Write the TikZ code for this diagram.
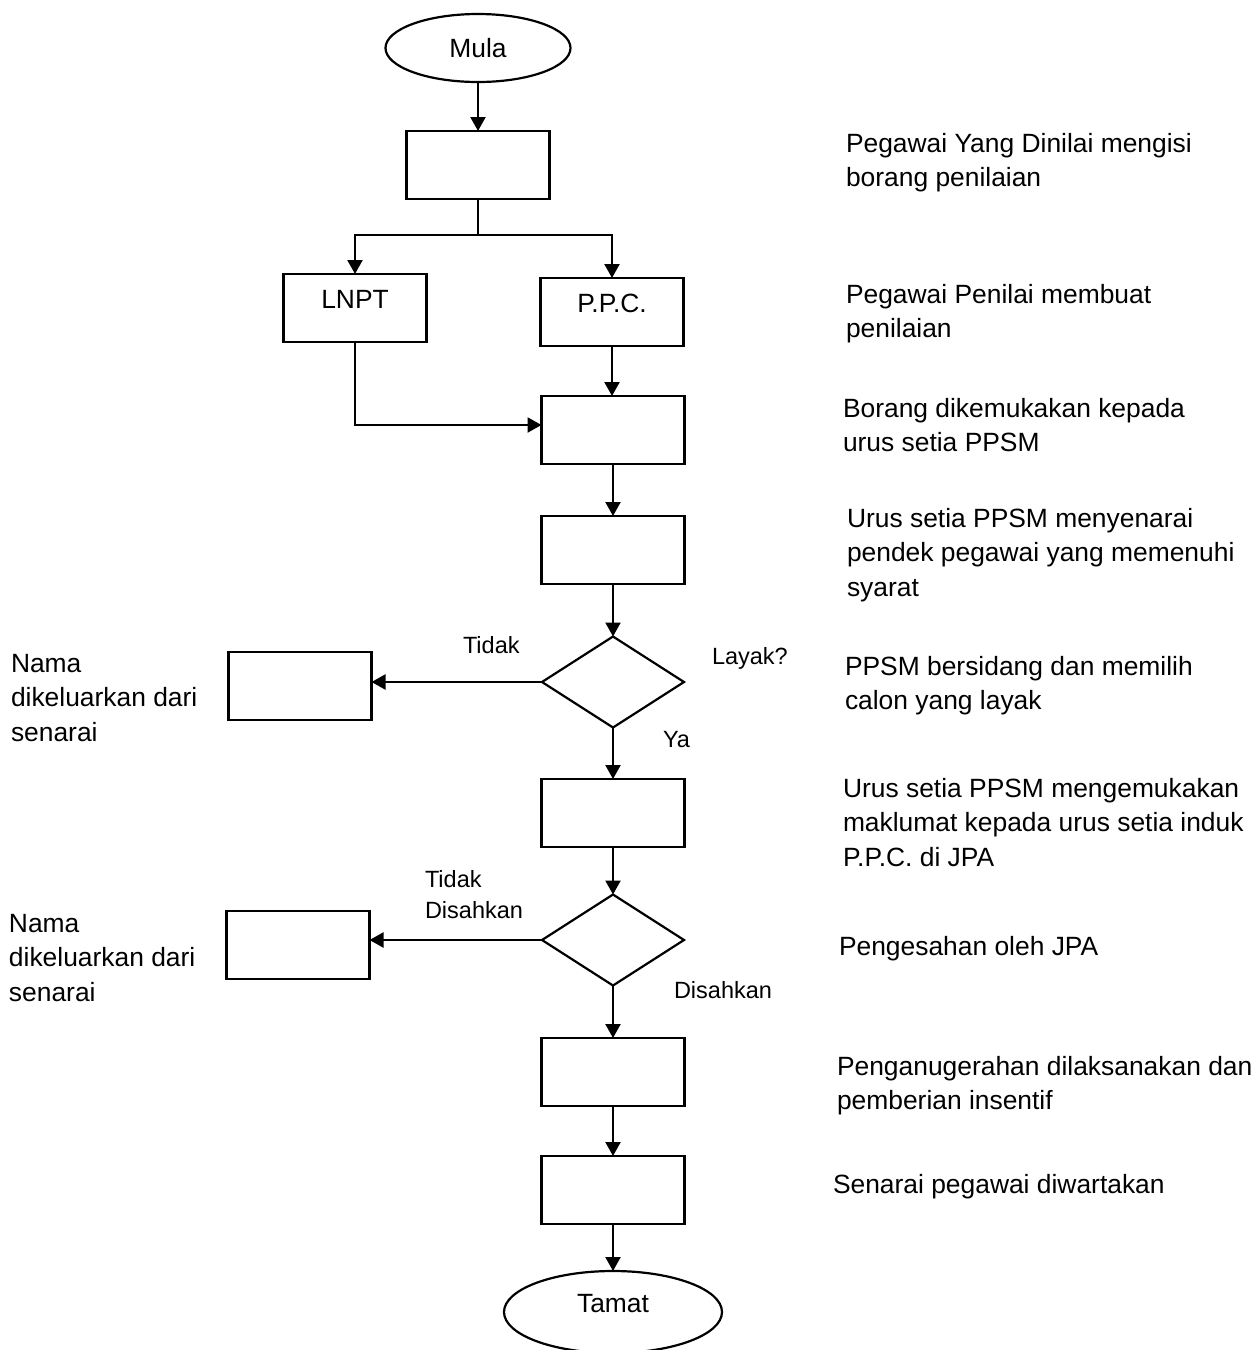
\documentclass[tikz,border=0pt]{standalone}
\usepackage{fontspec}
\setmainfont{Liberation Sans}
\usetikzlibrary{shapes.geometric,arrows.meta}
\newcommand\mylines[1]{\begin{tabular}[t]{@{}l@{}}#1\end{tabular}}
\begin{document}
\begin{tikzpicture}[x=1pt,y=-1pt,
  every node/.style={inner sep=0pt, outer sep=0pt},
  line/.style={line width=2.2pt},
  arr/.style={line width=2.2pt, -{Triangle[length=14pt,width=15pt]}},
  box/.style={draw, line width=2.2pt, rectangle, minimum width=143pt, minimum height=68pt, font=\fontsize{26.4}{30}\selectfont, text height=19pt, text depth=19pt},
  term/.style={draw, line width=2.2pt, ellipse, font=\fontsize{26.4}{30}\selectfont},
  dec/.style={draw, line width=2.2pt, diamond, minimum width=142pt, minimum height=91pt, aspect=1.55},
  desc/.style={anchor=base west, font=\fontsize{26.4}{34.5}\selectfont},
  lbl/.style={anchor=base west, font=\fontsize{23.5}{31}\selectfont},
]
\useasboundingbox (0,0) rectangle (1258,1350);
\clip (0,0) rectangle (1258,1350);
\fill[white] (0,0) rectangle (1258,1350);

% flow nodes
\node[term, minimum width=185pt, minimum height=68pt] (mula) at (478,48) {Mula};
\node[box] (b1) at (478,165) {};
\node[box] (lnpt) at (355,308) {LNPT};
\node[box] (ppc) at (612,312) {P.P.C.};
\node[box] (b3) at (613,430) {};
\node[box] (b4) at (613,550) {};
\node[dec] (d1) at (613,682) {};
\node[box] (r1) at (300,686) {};
\node[box] (b5) at (613,813) {};
\node[dec] (d2) at (613,940) {};
\node[box] (r2) at (298,945) {};
\node[box] (b6) at (613,1072) {};
\node[box] (b7) at (613,1190) {};
\node[term, minimum width=218pt, minimum height=82pt, text height=19pt, text depth=19pt] (tamat) at (613,1312) {Tamat};

% connectors
\coordinate (split) at (478,235);
\draw[arr] (mula.south) -- (b1.north);
\draw[line] (b1.south) -- (split);
\draw[arr] (split) -| (lnpt.north);
\draw[arr] (split) -| (ppc.north);
\draw[arr] (ppc.south) -- (ppc.south |- b3.north);
\draw[arr] (lnpt.south) |- ([yshift=5pt]b3.west);
\draw[arr] (b3.south) -- (b4.north);
\draw[arr] (b4.south) -- (d1.north);
\draw[arr] (d1.west) -- (d1.west -| r1.east);
\draw[arr] (d1.south) -- (b5.north);
\draw[arr] (b5.south) -- (d2.north);
\draw[arr] (d2.west) -- (d2.west -| r2.east);
\draw[arr] (d2.south) -- (b6.north);
\draw[arr] (b6.south) -- (b7.north);
\draw[arr] (b7.south) -- (tamat.north);

% branch labels
\node[lbl] (l1) at (463,653) {Tidak};
\node[lbl] (l2) at (712,664) {Layak?};
\node[lbl] (l3) at (663,747) {Ya};
\node[lbl] (l4) at (425,887) {\mylines{Tidak\\Disahkan}};
\node[lbl] (l5) at (674,998) {Disahkan};

% left texts
\node[desc] (n1) at (11,672) {\mylines{Nama\\dikeluarkan dari\\senarai}};
\node[desc] (n2) at (9,932) {\mylines{Nama\\dikeluarkan dari\\senarai}};

% right descriptions
\node[desc] (t1) at (846,152) {\mylines{Pegawai Yang Dinilai mengisi\\borang penilaian}};
\node[desc] (t2) at (846,303) {\mylines{Pegawai Penilai membuat\\penilaian}};
\node[desc] (t3) at (843,417) {\mylines{Borang dikemukakan kepada\\urus setia PPSM}};
\node[desc] (t4) at (847,527) {\mylines{Urus setia PPSM menyenarai\\pendek pegawai yang memenuhi\\syarat}};
\node[desc] (t5) at (845,675) {\mylines{PPSM bersidang dan memilih\\calon yang layak}};
\node[desc] (t6) at (843,797) {\mylines{Urus setia PPSM mengemukakan\\maklumat kepada urus setia induk\\P.P.C. di JPA}};
\node[desc] (t7) at (839,955) {Pengesahan oleh JPA};
\node[desc] (t8) at (837,1075) {\mylines{Penganugerahan dilaksanakan dan\\pemberian insentif}};
\node[desc] (t9) at (833,1193) {Senarai pegawai diwartakan};
\end{tikzpicture}
\end{document}
